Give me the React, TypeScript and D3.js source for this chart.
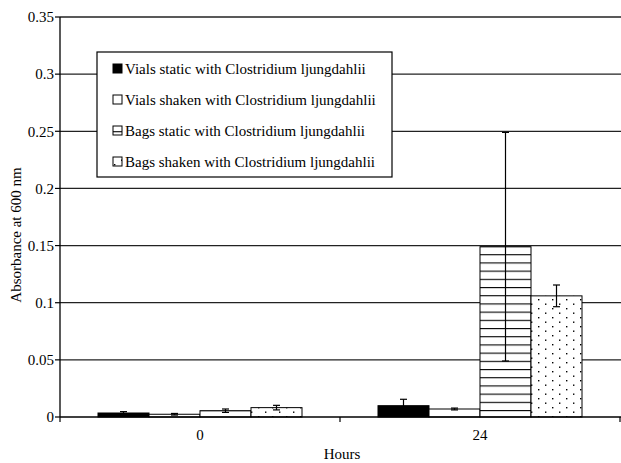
import * as d3 from "d3";

const categories = ["0", "24"];
const seriesNames = [
  "Vials static with Clostridium ljungdahlii",
  "Vials shaken with Clostridium ljungdahlii",
  "Bags static with Clostridium ljungdahlii",
  "Bags shaken with Clostridium ljungdahlii",
];
const seriesFills = ["solid", "white", "hatch", "dots"];
// values per series, one per category
const vialsStatic = [0.0035, 0.0099];
const vialsShaken = [0.0024, 0.007];
const bagsStatic = [0.0055, 0.149];
const bagsShaken = [0.0082, 0.106];
const vialsStaticErr = [0.0012, 0.0056];
const vialsShakenErr = [0.0007, 0.0008];
const bagsStaticErr = [0.0015, 0.1];
const bagsShakenErr = [0.002, 0.0095];
const yTicks = [0, 0.05, 0.1, 0.15, 0.2, 0.25, 0.3, 0.35];

const values = [vialsStatic, vialsShaken, bagsStatic, bagsShaken];
const errors = [vialsStaticErr, vialsShakenErr, bagsStaticErr, bagsShakenErr];

const font = "Liberation Serif, Times New Roman, serif";
const txt = { fontFamily: font, fontSize: 15 };

export default function App() {
  const width = 621;
  const height = 463;
  const margin = { top: 17, right: 1, bottom: 46, left: 60 };
  const x0 = margin.left;
  const x1 = width - margin.right;
  const yBottom = height - margin.bottom;

  const x = d3.scaleBand(categories, [x0, x1]);
  const xInner = d3
    .scaleBand(d3.range(seriesNames.length), [0, x.bandwidth()])
    .paddingOuter(0.745);
  const y = d3.scaleLinear([0, 0.35], [yBottom, margin.top]);

  const fillFor = (kind: string) =>
    kind === "solid" ? "#000" : kind === "white" ? "#fff" : kind === "hatch" ? "url(#hatch)" : "url(#dots)";

  return (
    <svg width={width} height={height} style={{ position: "absolute", left: 0, top: 0 }}>
      <defs>
        <pattern id="hatch" patternUnits="userSpaceOnUse" width={8} height={8.2}>
          <rect width={8} height={8.2} fill="#fff" />
          <line x1={0} x2={8} y1={0.5} y2={0.5} stroke="#000" strokeWidth={1.2} />
        </pattern>
        <pattern id="dots" patternUnits="userSpaceOnUse" width={14} height={9}>
          <rect width={14} height={9} fill="#fff" />
          <rect x={2} y={2} width={1.4} height={1.4} fill="#000" />
          <rect x={9} y={6.5} width={1.4} height={1.4} fill="#000" />
        </pattern>
      </defs>

      {/* gridlines */}
      {yTicks.slice(1).map((t) => (
        <line key={t} x1={x0} x2={width} y1={y(t)} y2={y(t)} stroke="#222" strokeWidth={1.3} />
      ))}

      {/* bars */}
      {categories.map((c, ci) => (
        <g key={c} transform={`translate(${x(c)},0)`}>
          {values.map((vals, si) => {
            const bx = xInner(si)!;
            const bw = xInner.bandwidth();
            const v = vals[ci];
            const e = errors[si][ci];
            const cx = bx + bw / 2;
            return (
              <g key={si}>
                <rect
                  x={bx}
                  y={y(v)}
                  width={bw}
                  height={yBottom - y(v)}
                  fill={fillFor(seriesFills[si])}
                  stroke="#000"
                  strokeWidth={1}
                />
                <line x1={cx} x2={cx} y1={y(v + e)} y2={y(v - e)} stroke="#000" strokeWidth={1.2} />
                <line x1={cx - 3.5} x2={cx + 3.5} y1={y(v + e)} y2={y(v + e)} stroke="#000" strokeWidth={1.2} />
                <line x1={cx - 3.5} x2={cx + 3.5} y1={y(v - e)} y2={y(v - e)} stroke="#000" strokeWidth={1.2} />
              </g>
            );
          })}
        </g>
      ))}

      {/* y axis */}
      <line x1={x0} x2={x0} y1={margin.top} y2={yBottom} stroke="#000" strokeWidth={1.3} />
      {yTicks.map((t) => (
        <g key={t}>
          <line x1={x0 - 5} x2={x0} y1={y(t)} y2={y(t)} stroke="#000" strokeWidth={1.2} />
          <text x={x0 - 6} y={y(t)} dy="0.35em" textAnchor="end" style={txt}>
            {String(t)}
          </text>
        </g>
      ))}

      {/* x axis */}
      <line x1={x0} x2={width} y1={yBottom} y2={yBottom} stroke="#000" strokeWidth={1.3} />
      {[x0, x0 + x.bandwidth(), x1].map((tx, i) => (
        <line key={i} x1={tx} x2={tx} y1={yBottom} y2={yBottom + 5} stroke="#000" strokeWidth={1.2} />
      ))}
      {categories.map((c) => (
        <text key={c} x={x(c)! + x.bandwidth() / 2} y={yBottom + 23} textAnchor="middle" style={txt}>
          {c}
        </text>
      ))}

      <text x={x0 + x.bandwidth() + 2} y={height - 4} textAnchor="middle" style={txt}>
        Hours
      </text>
      <text transform={`translate(21,${(margin.top + yBottom) / 2 + 18}) rotate(-90)`} textAnchor="middle" style={txt}>
        Absorbance at 600 nm
      </text>

      {/* legend */}
      <g>
        <rect x={97} y={52} width={295} height={125} fill="#fff" stroke="#000" strokeWidth={1.2} />
        {seriesNames.map((name, i) => {
          const ly = 69 + i * 31;
          return (
            <g key={name}>
              <rect x={113} y={ly - 5} width={9} height={9} fill={fillFor(seriesFills[i])} stroke="#000" strokeWidth={1} />
              <text x={125} y={ly} dy="0.35em" style={txt}>
                {name}
              </text>
            </g>
          );
        })}
      </g>
    </svg>
  );
}
